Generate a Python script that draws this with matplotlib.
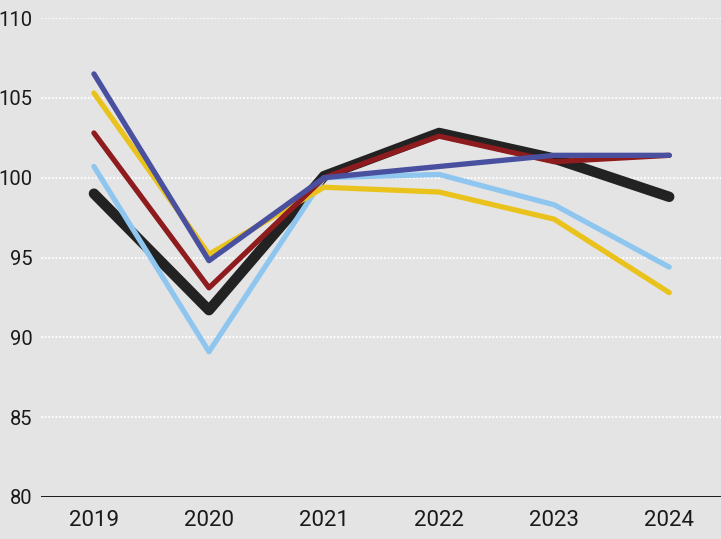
import matplotlib.pyplot as plt

years = [2019, 2020, 2021, 2022, 2023, 2024]

# index values (2021 = 100)
black_vals = [99.0, 91.7, 100.1, 102.8, 101.2, 98.8]
lightblue_vals = [100.7, 89.1, 100.0, 100.2, 98.3, 94.4]
yellow_vals = [105.3, 95.2, 99.4, 99.1, 97.4, 92.8]
red_vals = [102.8, 93.1, 100.0, 102.6, 101.0, 101.4]
blue_vals = [106.5, 94.8, 100.0, 100.7, 101.4, 101.4]

y_ticks = [80, 85, 90, 95, 100, 105, 110]

bg = "#e4e4e4"
plt.rcParams['font.family'] = ['Roboto', 'DejaVu Sans']

fig = plt.figure(figsize=(7.21, 5.39), dpi=100, facecolor=bg)
ax = fig.add_axes([41 / 721, 42 / 539, 680 / 721, 479 / 539])
ax.set_facecolor(bg)

# dotted white gridlines
for t in y_ticks[1:]:
    ax.axhline(t, color="white", linestyle=(0, (1, 1)), linewidth=1.3, zorder=1)
ax.axhline(80, color="#1a1a1a", linewidth=1.4, zorder=2)

style = dict(solid_capstyle="round", solid_joinstyle="round", clip_on=False)
ax.plot(years, black_vals, color="#222222", linewidth=7.5, zorder=3, **style)
ax.plot(years, lightblue_vals, color="#8ec6f0", linewidth=3.8, zorder=4, **style)
ax.plot(years, yellow_vals, color="#eac21c", linewidth=3.8, zorder=5, **style)
ax.plot(years, red_vals, color="#8e1b1e", linewidth=3.8, zorder=6, **style)
ax.plot(years, blue_vals, color="#4a50a0", linewidth=3.8, zorder=7, **style)

ax.set_xlim(2018.54, 2024.45)
ax.set_ylim(80, 110)
ax.set_xticks(years)
ax.set_xticklabels([str(y) for y in years], fontsize=16, color="#1a1a1a")
ax.set_yticks(y_ticks)
ax.set_yticklabels([str(t) for t in y_ticks], fontsize=14.5, color="#1a1a1a")
ax.tick_params(axis="both", length=0)
ax.tick_params(axis="x", pad=9)
ax.tick_params(axis="y", pad=6)
for s in ax.spines.values():
    s.set_visible(False)

fig.savefig("out.png", dpi=100, facecolor=bg)
